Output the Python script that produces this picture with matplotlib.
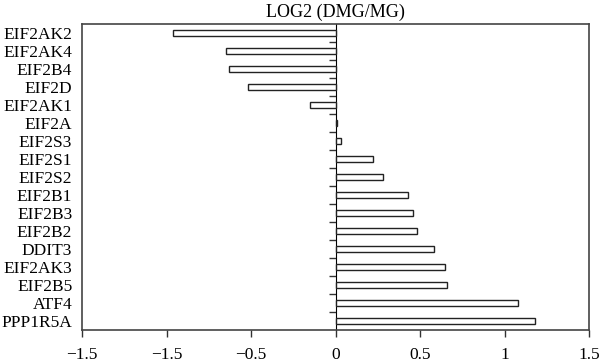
import matplotlib
matplotlib.use("Agg")
import matplotlib.pyplot as plt
import numpy as np

genes = ["EIF2AK2", "EIF2AK4", "EIF2B4", "EIF2D", "EIF2AK1", "EIF2A", "EIF2S3",
         "EIF2S1", "EIF2S2", "EIF2B1", "EIF2B3", "EIF2B2", "DDIT3", "EIF2AK3",
         "EIF2B5", "ATF4", "PPP1R5A"]
values = [-0.96, -0.65, -0.63, -0.52, -0.15, 0.01, 0.03, 0.22, 0.28, 0.43, 0.46,
          0.48, 0.585, 0.65, 0.66, 1.08, 1.18]
x_ticks = [-1.5, -1.0, -0.5, 0, 0.5, 1, 1.5]
x_tick_labels = ["\u22121.5", "\u22121.5", "\u22120.5", "0", "0.5", "1", "1.5"]
title = "LOG2 (DMG/MG)"

plt.rcParams['font.family'] = ['Liberation Serif', 'DejaVu Serif']

fig = plt.figure(figsize=(6.0, 3.63), dpi=100)
ax = fig.add_axes([82/600, 1 - 330/363, (589-82)/600, (330-24)/363])

n = len(genes)
y = np.arange(n)
ax.barh(y, values, height=0.38, color="white", edgecolor="#222222", linewidth=1.0)

ax.set_xlim(-1.5, 1.5)
ax.set_ylim(n - 0.5, -0.5)
ax.set_xticks(x_ticks)
ax.set_xticklabels(x_tick_labels, fontsize=12.5)
ax.set_yticks(y)
ax.set_yticklabels(genes, fontsize=12.5)
ax.tick_params(axis='y', length=0, pad=7)
ax.tick_params(axis='x', direction='out', length=5, width=1.0, color="#333333", pad=7)
for s in ax.spines.values():
    s.set_linewidth(1.2)
    s.set_edgecolor("#444444")

ax.set_title(title, fontsize=13, pad=5)

# central axis at x = 0 with ticks between categories
sec = ax.secondary_yaxis(0.5)
sec.set_yticks(np.arange(n - 1) + 0.5)
sec.set_yticklabels([])
sec.tick_params(axis='y', direction='in', length=5, width=1.0, color="#333333")
sec.spines['left'].set_linewidth(1.2)
sec.spines['left'].set_edgecolor("#444444")

fig.savefig("out.png", dpi=100)
